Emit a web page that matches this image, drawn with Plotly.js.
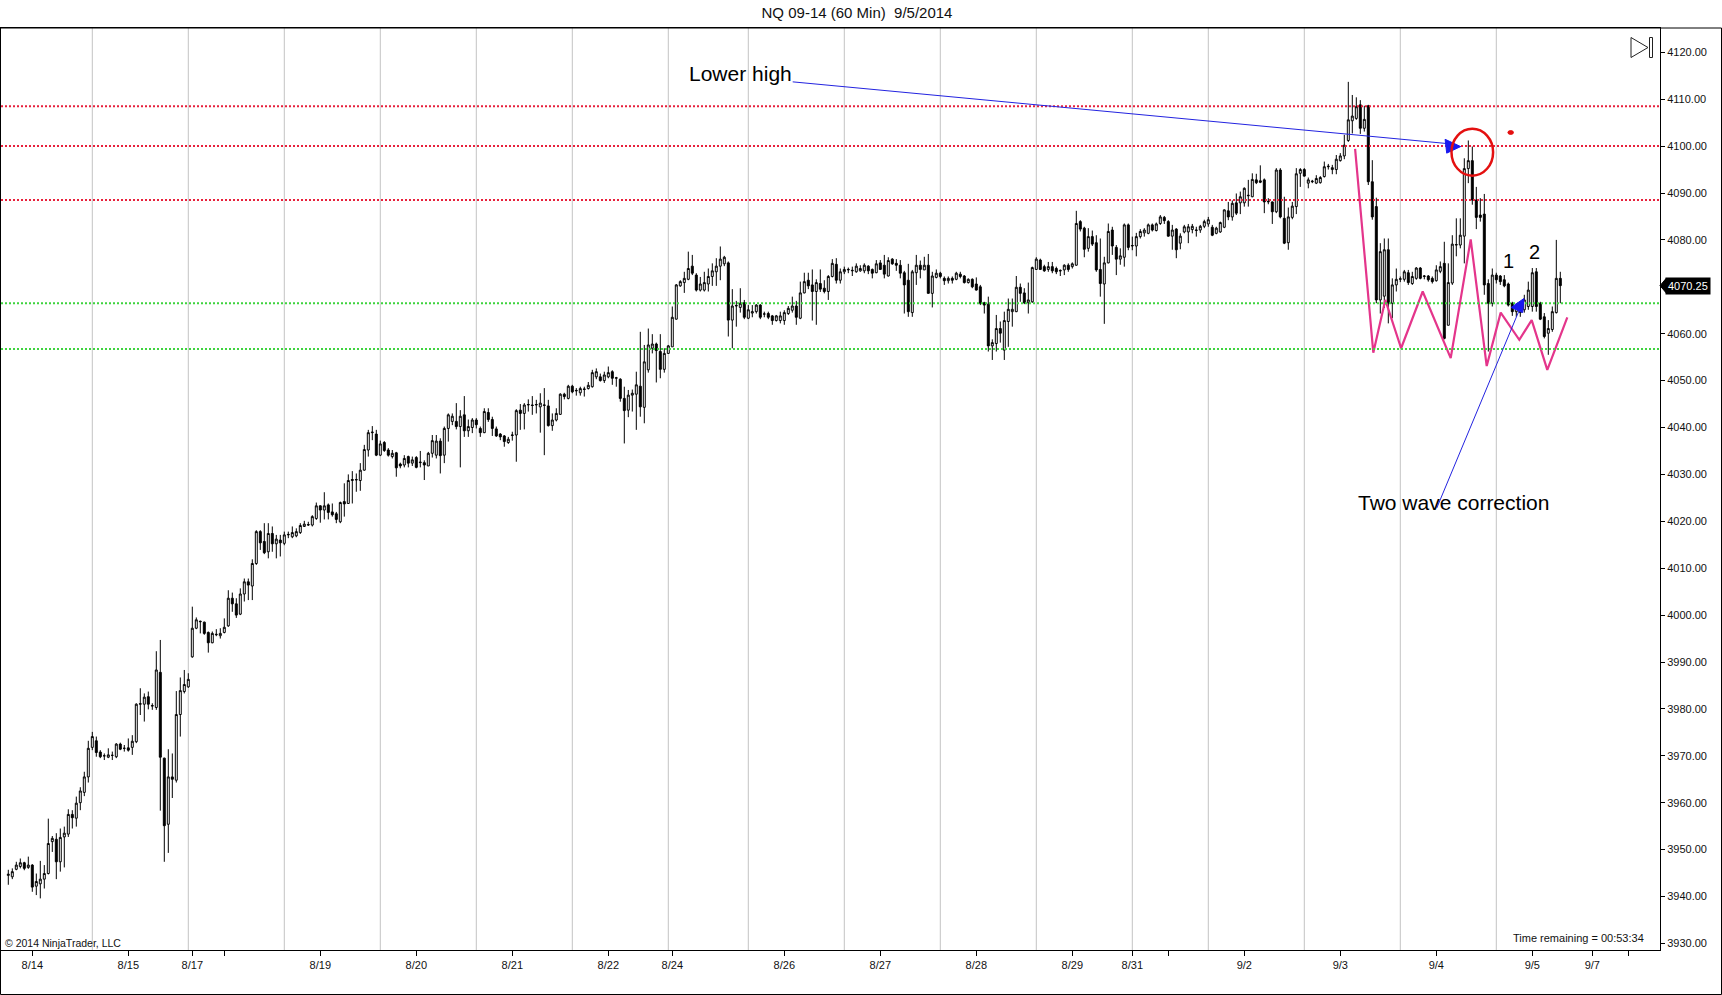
<!DOCTYPE html>
<html><head><meta charset="utf-8">
<script src="https://cdn.plot.ly/plotly-3.0.1.min.js"></script>
<style>html,body{margin:0;padding:0;background:#fff}#chart{width:1722px;height:995px}</style>
</head><body><div id="chart"></div>
<script>
// ---------------- DATA ----------------
// hourly bars [open, high, low, close], grouped between the session lines
const seg01 = [[3944.5,3945.7,3942.5,3944.75],[3944.2,3946.0,3943.7,3945.3],[3945.8,3947.4,3945.6,3946.7],[3946.4,3948.1,3946.0,3947.2],[3947.2,3947.4,3945.6,3946.0],[3946.2,3948.5,3945.9,3946.7],[3946.7,3946.9,3941.0,3942.0],[3942.2,3944.9,3940.3,3943.2],[3942.7,3947.6,3939.6,3943.7],[3943.7,3946.7,3941.7,3944.9],[3944.9,3956.6,3944.7,3951.3],[3951.7,3952.9,3949.5,3952.4],[3952.2,3953.5,3943.7,3947.4],[3947.4,3954.5,3945.3,3952.6],[3952.7,3954.9,3946.2,3953.5],[3953.3,3958.6,3952.7,3957.5],[3957.5,3958.4,3954.5,3956.8],[3956.7,3961.3,3954.9,3959.9],[3960.0,3963.3,3958.4,3962.5],[3962.2,3966.6,3961.4,3965.5],[3965.5,3973.2,3964.3,3971.6]];
const seg02 = [[3971.8,3975.1,3971.2,3974.1],[3973.2,3974.1,3969.8,3970.7],[3970.8,3971.2,3969.5,3969.8],[3970.0,3970.5,3969.1,3970.0],[3969.7,3971.6,3969.5,3970.2],[3970.1,3970.9,3969.1,3970.1],[3969.8,3972.7,3969.5,3972.5],[3972.5,3972.8,3971.2,3971.4],[3971.6,3972.3,3970.9,3971.6],[3971.7,3973.7,3970.9,3971.2],[3971.8,3974.4,3970.2,3973.1],[3973.0,3981.2,3972.7,3981.0],[3981.0,3984.4,3978.7,3981.1],[3981.0,3983.3,3977.3,3982.5],[3982.6,3983.7,3979.9,3981.0],[3980.6,3981.2,3979.8,3980.7],[3980.3,3992.3,3979.8,3988.3],[3987.8,3994.7,3958.3,3969.7],[3969.5,3969.6,3947.4,3955.1],[3955.4,3971.4,3949.3,3965.5],[3965.5,3970.5,3961.0,3965.0],[3964.8,3983.8,3964.3,3978.8],[3978.8,3986.7,3974.1,3983.9],[3983.7,3988.3,3983.3,3985.2]];
const seg03 = [[3984.7,3987.6,3984.5,3986.3],[3991.1,4001.8,3990.9,3997.2],[3997.2,3999.5,3997.0,3999.0],[3998.7,3998.8,3996.1,3998.6],[3998.5,3998.6,3995.8,3996.1],[3996.3,3996.5,3992.0,3994.1],[3994.1,3996.5,3994.0,3996.1],[3995.8,3997.0,3995.5,3995.9],[3995.6,3997.2,3995.0,3996.1],[3996.3,3999.3,3996.1,3997.4],[3997.7,4005.3,3997.5,4003.6],[4003.6,4004.8,4000.7,4002.4],[4002.4,4003.6,3999.4,4000.0],[4000.2,4005.7,4000.0,4004.5],[4004.5,4007.8,4002.9,4007.1],[4007.1,4007.8,4003.2,4006.4],[4006.2,4011.9,4003.2,4011.0],[4011.0,4018.1,4010.7,4017.8],[4017.8,4018.1,4013.9,4015.4],[4015.7,4019.6,4013.0,4013.3],[4013.5,4019.6,4012.1,4017.4],[4017.4,4018.9,4013.5,4015.2],[4015.2,4017.1,4012.1,4016.2],[4016.0,4017.1,4012.5,4015.4]];
const seg04 = [[4015.3,4017.8,4014.9,4017.1],[4017.1,4017.8,4016.4,4017.2],[4016.7,4018.9,4016.4,4017.6],[4016.9,4018.5,4016.6,4017.8],[4017.6,4019.6,4017.3,4019.1],[4018.9,4020.1,4018.8,4019.4],[4019.2,4019.9,4019.0,4019.3],[4019.2,4021.3,4018.9,4021.0],[4020.6,4024.0,4020.3,4023.3],[4023.3,4023.4,4019.7,4022.4],[4022.4,4026.2,4020.4,4023.3],[4023.5,4023.8,4020.4,4021.9],[4022.0,4023.8,4021.0,4021.4],[4021.6,4022.0,4019.6,4020.4],[4019.9,4024.2,4019.6,4024.0],[4024.2,4028.1,4021.0,4023.7],[4023.8,4030.0,4023.7,4028.7],[4028.7,4030.7,4023.8,4028.9],[4028.8,4030.2,4026.3,4028.9],[4028.7,4032.4,4026.5,4030.9],[4030.9,4036.3,4030.8,4035.3],[4035.2,4039.5,4033.8,4038.9],[4038.9,4040.3,4037.3,4039.0],[4038.6,4039.5,4033.9,4034.1]];
const seg05 = [[4034.1,4037.2,4033.9,4036.5],[4036.8,4037.1,4034.8,4035.1],[4035.2,4035.6,4033.8,4034.1],[4033.8,4035.2,4033.4,4034.5],[4034.6,4034.8,4029.5,4031.4],[4032.2,4032.5,4031.3,4031.8],[4032.0,4034.1,4031.5,4033.4],[4033.8,4034.0,4031.5,4032.4],[4032.4,4033.8,4031.8,4033.1],[4033.6,4033.9,4031.3,4031.5],[4032.5,4035.0,4031.5,4032.6],[4032.5,4033.0,4028.8,4032.0],[4031.8,4034.8,4031.8,4034.5],[4034.5,4038.4,4033.6,4037.2],[4034.1,4038.4,4033.4,4037.1],[4037.1,4037.7,4030.2,4034.0],[4034.1,4040.2,4032.4,4039.8],[4039.8,4043.0,4037.0,4042.7],[4041.3,4043.0,4040.5,4042.4],[4041.3,4045.2,4039.6,4040.2],[4040.2,4043.7,4031.5,4042.4],[4042.7,4046.7,4038.0,4039.3],[4039.3,4041.7,4038.0,4040.2],[4040.0,4042.0,4038.8,4041.6]];
const seg06 = [[4041.6,4042.0,4039.8,4040.6],[4039.8,4040.2,4038.0,4038.9],[4038.9,4044.1,4038.8,4043.4],[4043.2,4044.1,4041.2,4041.7],[4041.7,4042.3,4038.2,4039.8],[4039.7,4040.2,4038.0,4038.2],[4038.6,4038.8,4037.3,4038.0],[4038.2,4038.4,4035.9,4037.0],[4036.8,4038.0,4036.5,4037.5],[4038.3,4039.1,4037.2,4038.4],[4038.4,4043.9,4032.7,4043.6],[4043.7,4045.0,4039.5,4043.0],[4043.0,4045.2,4039.6,4044.8],[4044.8,4046.0,4043.4,4044.9],[4044.8,4046.7,4042.7,4044.7],[4044.8,4045.9,4043.0,4044.9],[4044.4,4047.3,4038.9,4045.2],[4044.7,4048.4,4034.1,4044.8],[4044.6,4045.9,4040.2,4040.4],[4040.4,4043.0,4039.3,4041.6],[4041.6,4044.1,4041.3,4043.0],[4042.8,4047.3,4042.7,4047.1],[4047.1,4047.4,4046.0,4046.6],[4046.2,4049.1,4046.0,4048.8]];
const seg07 = [[4048.8,4049.1,4047.3,4047.6],[4047.8,4048.4,4046.8,4047.9],[4047.4,4048.7,4046.8,4048.3],[4048.1,4048.7,4046.6,4048.2],[4048.3,4049.7,4048.1,4049.0],[4048.7,4052.3,4048.5,4051.7],[4050.8,4052.6,4050.3,4051.9],[4050.8,4051.5,4049.8,4050.0],[4050.0,4051.9,4049.5,4051.2],[4050.8,4053.0,4050.5,4051.7],[4051.9,4052.2,4049.1,4050.5],[4050.5,4050.8,4048.7,4050.6],[4050.3,4050.5,4045.5,4046.2],[4046.2,4048.7,4036.6,4043.6],[4043.7,4048.0,4042.2,4046.9],[4046.9,4048.1,4043.4,4047.3],[4047.1,4051.9,4039.5,4049.1],[4048.8,4060.4,4042.3,4044.4],[4044.3,4057.6,4040.9,4054.0],[4052.3,4061.1,4051.7,4057.6],[4056.9,4059.9,4055.8,4057.8],[4057.8,4058.1,4049.6,4056.4],[4056.2,4059.9,4050.5,4052.4],[4052.4,4056.9,4051.7,4055.8]];
const seg08 = [[4055.8,4057.6,4055.7,4057.4],[4057.2,4065.8,4057.2,4063.5],[4063.1,4070.6,4063.0,4070.4],[4070.2,4071.4,4070.0,4071.1],[4070.9,4073.2,4068.7,4071.8],[4071.6,4077.5,4071.4,4073.9],[4074.4,4076.8,4072.5,4072.9],[4072.5,4072.9,4069.0,4069.3],[4069.3,4072.1,4069.0,4070.6],[4069.3,4073.2,4069.0,4070.9],[4070.6,4073.9,4069.0,4072.2],[4072.2,4075.0,4070.2,4073.4],[4073.2,4076.1,4070.2,4074.4],[4074.4,4078.6,4071.4,4075.9],[4074.9,4076.6,4074.4,4076.3],[4075.1,4075.4,4059.4,4062.9],[4062.9,4069.5,4056.9,4065.9],[4065.9,4067.0,4061.5,4066.0],[4065.6,4069.7,4064.5,4066.5],[4066.6,4067.2,4063.1,4063.5]];
const seg09 = [[4063.3,4066.1,4063.1,4065.1],[4064.4,4066.1,4063.5,4064.7],[4064.7,4066.3,4064.3,4066.1],[4066.1,4066.3,4063.1,4063.5],[4064.2,4064.7,4063.5,4064.2],[4064.3,4064.7,4063.1,4063.5],[4063.8,4064.0,4061.9,4062.8],[4062.8,4064.0,4062.6,4063.8],[4062.8,4064.7,4062.2,4063.8],[4062.8,4065.0,4061.9,4064.5],[4064.3,4065.9,4064.0,4065.4],[4065.0,4067.9,4064.5,4065.9],[4065.9,4067.0,4061.9,4063.5],[4063.3,4071.1,4063.1,4068.7],[4068.7,4073.0,4068.6,4071.1],[4071.4,4073.0,4069.5,4070.2],[4070.4,4073.7,4062.8,4069.0],[4069.0,4071.6,4061.9,4070.9],[4070.7,4073.7,4068.9,4069.5],[4069.7,4071.4,4068.6,4069.0],[4069.0,4072.5,4067.2,4072.2],[4072.2,4075.9,4072.0,4075.0],[4074.8,4076.1,4070.7,4071.4],[4071.4,4073.9,4070.7,4073.2]];
const seg10 = [[4073.2,4074.3,4072.7,4073.7],[4073.6,4074.1,4072.9,4073.7],[4073.4,4074.3,4072.3,4073.5],[4073.2,4075.0,4073.0,4074.4],[4073.4,4074.6,4073.2,4073.9],[4073.4,4075.0,4072.9,4074.6],[4074.4,4074.6,4072.7,4073.4],[4073.7,4073.9,4071.8,4072.9],[4073.0,4075.7,4072.9,4074.9],[4075.1,4075.7,4073.6,4073.7],[4074.6,4076.8,4071.8,4072.7],[4072.3,4076.3,4072.2,4075.6],[4075.9,4076.1,4074.7,4074.9],[4075.0,4075.9,4073.4,4074.6],[4074.6,4075.7,4071.8,4072.9],[4073.0,4073.4,4064.3,4070.4],[4071.4,4074.9,4063.6,4064.7],[4064.5,4073.6,4063.6,4073.2],[4073.0,4076.8,4070.4,4074.6],[4074.6,4075.6,4071.8,4073.7],[4073.6,4076.4,4073.6,4074.6],[4074.6,4077.0,4068.6,4068.6],[4068.6,4073.2,4065.6,4072.3],[4072.0,4073.7,4071.8,4072.9]];
const seg11 = [[4072.9,4073.2,4071.8,4072.2],[4071.8,4072.2,4070.4,4071.3],[4071.3,4072.2,4070.7,4071.8],[4071.8,4072.2,4070.7,4071.4],[4071.6,4073.2,4071.4,4072.9],[4072.7,4073.2,4071.8,4072.2],[4072.3,4072.5,4070.7,4070.9],[4070.9,4071.8,4070.7,4071.6],[4071.6,4071.8,4069.7,4070.0],[4070.6,4072.0,4069.2,4069.3],[4070.0,4070.4,4066.1,4066.5],[4066.6,4066.8,4064.3,4066.1],[4066.3,4067.9,4056.2,4057.4],[4057.4,4058.8,4054.4,4058.1],[4057.9,4064.0,4056.2,4061.1],[4061.1,4062.6,4058.1,4060.1],[4056.5,4064.7,4054.4,4062.8],[4062.6,4067.5,4057.2,4065.2],[4064.7,4067.5,4061.5,4065.2],[4064.7,4072.3,4064.6,4069.9],[4069.9,4070.7,4066.8,4068.6],[4068.7,4069.7,4066.3,4066.6],[4066.6,4070.9,4064.3,4067.2],[4066.8,4074.3,4066.6,4074.1]];
const seg12 = [[4073.7,4076.3,4073.6,4075.9],[4075.7,4076.0,4073.6,4073.7],[4074.3,4074.7,4073.2,4073.4],[4073.7,4075.3,4073.2,4074.3],[4074.3,4075.3,4072.9,4073.4],[4073.9,4074.3,4072.7,4073.2],[4073.5,4073.7,4072.3,4073.4],[4073.6,4074.8,4072.5,4074.6],[4074.6,4075.0,4073.2,4073.7],[4074.3,4075.2,4073.9,4074.9],[4074.6,4086.2,4074.5,4083.5],[4083.9,4084.2,4081.8,4082.3],[4082.5,4082.8,4076.3,4078.0],[4078.2,4082.5,4077.5,4080.7],[4080.7,4082.0,4078.7,4079.1],[4079.4,4081.0,4073.2,4073.6],[4073.7,4080.3,4067.9,4070.7],[4070.6,4076.4,4062.1,4075.1],[4075.1,4083.5,4075.0,4081.8],[4082.1,4082.8,4076.8,4078.7],[4078.4,4078.9,4072.5,4075.9],[4075.9,4078.2,4074.7,4076.6],[4076.3,4083.5,4074.3,4083.2],[4083.2,4083.5,4077.8,4078.4]];
const seg13 = [[4078.7,4080.7,4077.8,4078.8],[4078.7,4081.5,4076.5,4080.7],[4080.7,4082.3,4080.3,4081.8],[4081.5,4082.5,4080.7,4082.1],[4081.4,4083.5,4081.2,4083.2],[4083.2,4083.5,4081.8,4082.1],[4082.0,4083.7,4081.8,4083.4],[4083.5,4085.3,4083.2,4084.9],[4084.8,4085.1,4083.4,4084.1],[4083.9,4084.2,4080.7,4080.8],[4080.8,4083.2,4077.9,4082.1],[4082.3,4082.5,4076.1,4077.9],[4079.3,4081.4,4078.0,4080.8],[4081.7,4083.2,4081.4,4082.8],[4081.7,4083.4,4079.3,4082.8],[4082.2,4083.4,4081.4,4082.9],[4082.0,4082.8,4080.7,4082.1],[4082.1,4083.2,4081.5,4082.9],[4082.9,4084.3,4082.5,4083.9]];
const seg14 = [[4083.4,4084.9,4082.8,4084.3],[4082.7,4083.2,4080.8,4081.0],[4081.4,4082.8,4081.2,4082.5],[4081.7,4083.9,4081.5,4083.7],[4082.7,4086.5,4082.5,4086.4],[4086.2,4088.1,4084.2,4084.9],[4084.9,4088.4,4084.1,4087.8],[4087.9,4089.9,4085.3,4085.7],[4087.9,4090.3,4085.5,4089.2],[4087.9,4091.2,4087.1,4091.0],[4089.4,4092.8,4087.1,4089.5],[4089.2,4094.2,4089.1,4092.9],[4092.8,4094.1,4091.9,4092.2],[4092.6,4095.9,4092.1,4092.3],[4092.8,4093.1,4085.7,4088.1],[4088.1,4088.9,4087.6,4088.2],[4088.1,4088.2,4083.4,4086.0],[4086.0,4095.3,4085.7,4094.9],[4094.9,4095.3,4084.6,4084.9],[4084.6,4089.2,4079.1,4079.3],[4079.4,4086.9,4077.9,4084.9],[4084.8,4088.1,4084.4,4087.2],[4087.1,4095.3,4085.5,4094.1],[4094.2,4095.3,4091.3,4095.0]];
const seg15 = [[4095.0,4095.3,4093.5,4093.6],[4092.1,4093.3,4091.0,4092.8],[4092.4,4092.8,4092.1,4092.5],[4092.1,4093.8,4091.9,4093.1],[4092.2,4093.6,4092.0,4093.3],[4093.5,4096.7,4093.3,4095.6],[4095.6,4096.2,4095.0,4095.7],[4095.0,4096.0,4094.0,4095.4],[4095.0,4098.1,4094.0,4097.2],[4096.9,4098.5,4096.7,4097.9],[4097.9,4102.4,4097.2,4100.2],[4101.2,4113.7,4100.9,4105.6],[4105.4,4110.9,4102.7,4106.4],[4105.9,4110.4,4105.6,4108.4],[4108.8,4109.8,4102.6,4103.8],[4103.8,4108.6,4103.1,4105.7],[4108.6,4108.8,4091.7,4092.4],[4092.4,4097.0,4084.3,4084.9],[4087.1,4089.0,4066.5,4067.2],[4067.2,4079.3,4064.3,4077.5],[4068.0,4080.3,4065.5,4077.9],[4077.9,4080.3,4062.2,4066.5],[4066.5,4071.8,4063.3,4070.4],[4070.4,4073.9,4069.0,4071.6]];
const seg16 = [[4071.6,4072.2,4071.0,4071.7],[4071.6,4073.6,4071.1,4073.2],[4073.0,4073.6,4070.4,4070.9],[4070.7,4073.2,4070.4,4072.2],[4071.8,4074.2,4071.5,4074.0],[4074.0,4074.2,4071.6,4071.8],[4072.2,4072.5,4071.6,4072.3],[4072.3,4072.5,4071.1,4071.5],[4071.8,4072.2,4070.7,4071.1],[4071.3,4074.6,4071.1,4073.6],[4073.3,4075.4,4072.9,4074.3],[4075.0,4079.6,4058.8,4059.0],[4061.8,4075.0,4061.8,4070.9],[4070.8,4081.0,4070.4,4079.1],[4078.9,4084.6,4076.5,4079.0],[4078.9,4084.6,4078.2,4081.0],[4080.8,4097.4,4075.0,4095.2],[4095.2,4101.2,4092.1,4096.9],[4096.9,4099.9,4087.5,4088.5],[4088.5,4091.3,4082.3,4084.8],[4085.3,4088.9,4083.9,4084.8],[4085.5,4089.8,4068.3,4070.4],[4070.7,4071.6,4056.2,4066.5],[4066.5,4073.9,4065.8,4072.5]];
const seg17 = [[4072.5,4073.0,4070.7,4071.5],[4072.3,4072.5,4070.4,4071.1],[4071.5,4072.5,4069.9,4070.2],[4070.6,4070.9,4065.8,4066.1],[4066.5,4066.8,4063.8,4064.7],[4064.7,4066.5,4063.6,4065.9],[4064.5,4066.5,4063.6,4066.1],[4065.1,4068.3,4064.5,4067.2],[4065.8,4071.1,4065.1,4069.3],[4065.8,4074.0,4064.7,4073.0],[4073.2,4074.0,4064.7,4065.8],[4066.5,4066.8,4062.9,4063.1],[4063.6,4064.4,4059.0,4059.4],[4060.1,4062.9,4055.5,4061.1],[4060.9,4065.8,4060.4,4064.7],[4064.5,4080.0,4064.3,4071.8],[4071.8,4073.2,4066.5,4070.25]];

// session separator lines (bar index) and date ticks
const sessionBreaks = [21,45,69,93,117,141,165,185,209,233,257,281,300,324,348,372];
const tickIdx  = [6,30,46,54,78,102,126,150,166,194,218,242,266,281,290,309,333,357,381,396,405];
const tickText = ['8/14','8/15','8/17','','8/19','8/20','8/21','8/22','8/24','8/26','8/27','8/28','8/29','8/31','','9/2','9/3','9/4','9/5','9/7',''];
const yTicks = [3930,3940,3950,3960,3970,3980,3990,4000,4010,4020,4030,4040,4050,4060,4070,4080,4090,4100,4110,4120];

// horizontal levels
const redLevels = [4108.5, 4100, 4088.5];
const greenLevels = [4066.5, 4056.75];
const lastPrice = 4070.25;

// hand-drawn wave zigzag (bar index, price)
const waveIdx   = [336.7,341.25,344.25,348.2,353.6,360.6,365.6,369.6,373.1,377.75,380.85,384.75,389.75];
const wavePrice = [4099.4,4055.95,4067.2,4056.9,4069.0,4054.8,4080.1,4053.1,4064.5,4058.7,4062.9,4052.3,4063.5];

// drawing-tool anchors (bar index, price)
const lowerHighLine = [[196.1,4113.7],[360.9,4100.45]];
const lowerHighHead = [[363.1,4099.9],[359.2,4101.45],[359.6,4098.5]];
const twoWaveLine   = [[357.1,4022.8],[378.9,4067.4]];
const twoWaveHead   = [[375.7,4065.6],[378.9,4067.5],[378.6,4064.5]];
const circleBox = [360.8,371.2,4093.7,4103.7];
const dotBox = [374.9,376.3,4102.5,4103.3];
const textNotes = [
  {t:'Lower high', x:183.05, y:4115.4, s:21},
  {t:'Two wave correction', x:361.2, y:4024.1, s:21},
  {t:'1', x:375.0, y:4075.4, s:20},
  {t:'2', x:381.5, y:4077.4, s:20}
];

// ---------------- BUILD ----------------
const bars = [].concat(seg01,seg02,seg03,seg04,seg05,seg06,seg07,seg08,seg09,seg10,seg11,seg12,seg13,seg14,seg15,seg16,seg17);
const xi = bars.map((b,i)=>i);
const FONT = 'Arial, "Liberation Sans", sans-serif';

// plot box in pixels
const PL=1, PR=1660, PT=28, PB=950;
const xp = px => (px-PL)/(PR-PL);
const yp = py => (PB-py)/(PB-PT);

const candle = {
  type:'candlestick', x:xi,
  open:bars.map(b=>b[0]), high:bars.map(b=>b[1]), low:bars.map(b=>b[2]), close:bars.map(b=>b[3]),
  increasing:{line:{color:'#000',width:1}, fillcolor:'#ffffff'},
  decreasing:{line:{color:'#000',width:1}, fillcolor:'#000000'},
  whiskerwidth:0, hoverinfo:'skip', showlegend:false
};
const wave = {type:'scatter', mode:'lines', x:waveIdx, y:wavePrice,
  line:{color:'#e4358b', width:2.2}, hoverinfo:'skip', showlegend:false};

const shapes = [];
sessionBreaks.forEach(k=>shapes.push({type:'line', xref:'x', yref:'paper', x0:k, x1:k, y0:0, y1:1,
  line:{color:'#c4c4c4', width:1}, layer:'below'}));
redLevels.forEach(v=>shapes.push({type:'line', xref:'paper', yref:'y', x0:0, x1:1, y0:v, y1:v,
  line:{color:'#e8203c', width:2, dash:'2px,2px'}}));
greenLevels.forEach(v=>shapes.push({type:'line', xref:'paper', yref:'y', x0:0, x1:1, y0:v, y1:v,
  line:{color:'#3ed43e', width:2, dash:'2px,2px'}}));
const tri = p => 'M'+p[0][0]+','+p[0][1]+' L'+p[1][0]+','+p[1][1]+' L'+p[2][0]+','+p[2][1]+' Z';
shapes.push({type:'line', xref:'x', yref:'y', x0:lowerHighLine[0][0], y0:lowerHighLine[0][1], x1:lowerHighLine[1][0], y1:lowerHighLine[1][1], line:{color:'#2323e0', width:1}});
shapes.push({type:'path', xref:'x', yref:'y', path:tri(lowerHighHead), fillcolor:'#1818f0', line:{color:'#1818f0', width:1}});
shapes.push({type:'line', xref:'x', yref:'y', x0:twoWaveLine[0][0], y0:twoWaveLine[0][1], x1:twoWaveLine[1][0], y1:twoWaveLine[1][1], line:{color:'#2323e0', width:1}});
shapes.push({type:'path', xref:'x', yref:'y', path:tri(twoWaveHead), fillcolor:'#1818f0', line:{color:'#1818f0', width:1}});
shapes.push({type:'circle', xref:'x', yref:'y', x0:circleBox[0], x1:circleBox[1], y0:circleBox[2], y1:circleBox[3], line:{color:'#e41010', width:2.5}});
shapes.push({type:'circle', xref:'x', yref:'y', x0:dotBox[0], x1:dotBox[1], y0:dotBox[2], y1:dotBox[3], line:{color:'#e41010', width:1}, fillcolor:'#e41010'});
// outer panel frame
shapes.push({type:'rect', xref:'paper', yref:'paper', x0:xp(0.5), x1:xp(1721.5), y0:yp(994.5), y1:yp(PT), line:{color:'#000', width:1}, fillcolor:'rgba(0,0,0,0)'});
// scroll-to-end button
shapes.push({type:'path', xref:'paper', yref:'paper',
  path:'M'+xp(1631)+','+yp(37.5)+' L'+xp(1631)+','+yp(57.5)+' L'+xp(1648)+','+yp(47.5)+' Z', line:{color:'#222', width:1}});
shapes.push({type:'rect', xref:'paper', yref:'paper', x0:xp(1649.5), x1:xp(1652.5), y0:yp(57.5), y1:yp(37.5), line:{color:'#222', width:1}});
// last-price pointer
shapes.push({type:'path', xref:'paper', yref:'y',
  path:'M'+xp(1660)+','+lastPrice+' L'+xp(1666)+','+(lastPrice+1.5)+' L'+xp(1666)+','+(lastPrice-1.5)+' Z', fillcolor:'#000', line:{color:'#000', width:1}});

const annotations = textNotes.map(n=>({xref:'x', yref:'y', x:n.x, y:n.y, text:n.t, showarrow:false,
  xanchor:'center', yanchor:'middle', font:{family:FONT, size:n.s, color:'#000'}}));
annotations.push({xref:'paper', yref:'paper', x:xp(3), y:yp(943), xanchor:'left', yanchor:'middle', showarrow:false,
  text:'© 2014 NinjaTrader, LLC', font:{family:FONT, size:10.5, color:'#111'}});
annotations.push({xref:'paper', yref:'paper', x:xp(1646), y:yp(938), xanchor:'right', yanchor:'middle', showarrow:false,
  text:'Time remaining = 00:53:34', font:{family:FONT, size:11, color:'#111'}});
annotations.push({xref:'paper', yref:'y', x:xp(1665), y:lastPrice, xanchor:'left', yanchor:'middle', showarrow:false,
  text:'4070.25', bgcolor:'#000', borderpad:2, font:{family:FONT, size:11, color:'#fff'}});

const layout = {
  width:1722, height:995,
  margin:{l:PL, r:1722-PR, t:PT, b:995-PB, pad:0},
  paper_bgcolor:'#fff', plot_bgcolor:'#fff',
  font:{family:FONT, size:11, color:'#111'},
  title:{text:'NQ 09-14 (60 Min)\u00a0\u00a09/5/2014', font:{family:FONT, size:15, color:'#111'},
    xref:'paper', x:xp(857), xanchor:'center', yref:'container', y:1-13/995, yanchor:'middle'},
  showlegend:false,
  xaxis:{type:'linear', range:[(PL-8.3)/4, (PR-8.3)/4], showgrid:false, zeroline:false,
    tickmode:'array', tickvals:tickIdx, ticktext:tickText, ticks:'outside', ticklen:5, tickcolor:'#000',
    showline:true, linecolor:'#000', linewidth:1, mirror:true,
    rangeslider:{visible:false}, fixedrange:true, tickfont:{family:FONT, size:11, color:'#111'}},
  yaxis:{range:[4120-(PB-52.3)/4.69, 4120-(PT-52.3)/4.69], side:'right', showgrid:false, zeroline:false,
    tickmode:'array', tickvals:yTicks, ticktext:yTicks.map(v=>v.toFixed(2)), ticks:'outside', ticklen:4, tickcolor:'#000',
    showline:true, linecolor:'#000', linewidth:1, mirror:true, fixedrange:true,
    tickfont:{family:FONT, size:11, color:'#111'}},
  shapes:shapes, annotations:annotations
};

Plotly.newPlot('chart', [candle, wave], layout, {staticPlot:true, displayModeBar:false});
</script>
</body></html>
